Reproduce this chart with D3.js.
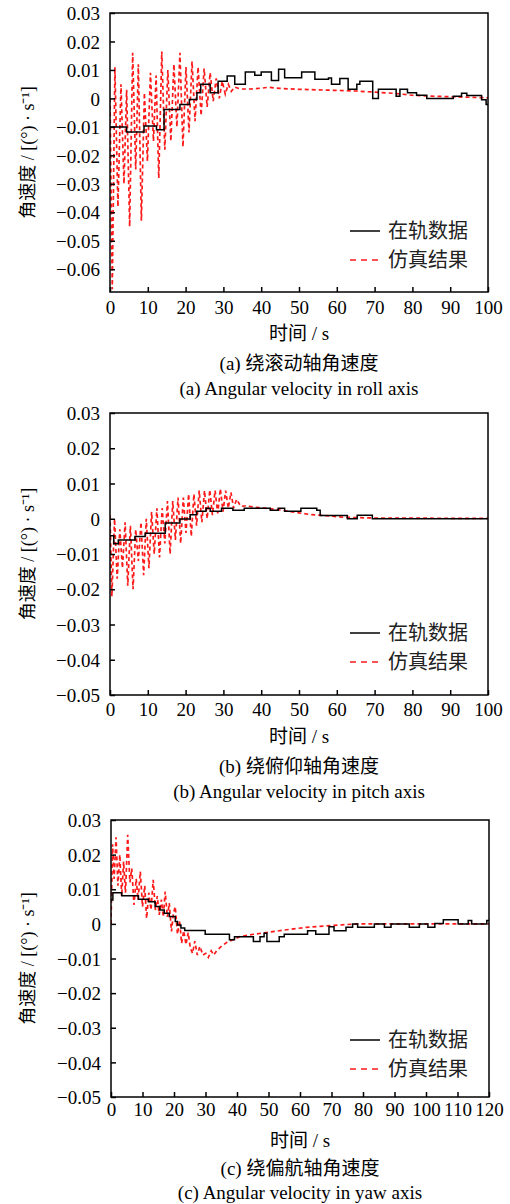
<!DOCTYPE html>
<html><head><meta charset="utf-8">
<script src="https://cdn.jsdelivr.net/npm/d3@7"></script>
<style>body{margin:0;background:#fff}svg{display:block}</style>
</head><body>
<script>
// ---- Data ----
const legendNames = ["在轨数据", "仿真结果"];
const xTitle = "时间 / s";
const yTitle = "角速度 / [(°) · s⁻¹]";
const captionsCN = ["(a) 绕滚动轴角速度", "(b) 绕俯仰轴角速度", "(c) 绕偏航轴角速度"];
const captionsEN = ["(a) Angular velocity in roll axis", "(b) Angular velocity in pitch axis", "(c) Angular velocity in yaw axis"];
const xTicksA = [0,10,20,30,40,50,60,70,80,90,100];
const xTicksC = [0,10,20,30,40,50,60,70,80,90,100,110,120];
const yTicksA = [0.03,0.02,0.01,0,-0.01,-0.02,-0.03,-0.04,-0.05,-0.06];
const yTicksBC = [0.03,0.02,0.01,0,-0.01,-0.02,-0.03,-0.04,-0.05];

// roll: on-orbit (step) and simulation
const rollOrbit = [[0,-0.010],[4.4,-0.0118],[9,-0.0097],[12.3,-0.011],[14.3,-0.0039],[18.5,-0.0021],[21,-0.0004],[23,0.002],[24,0.005],[26.5,0.002],[28.6,0.006],[31,0.0079],[33,0.005],[35.8,0.0093],[38.3,0.0081],[40,0.0093],[42.7,0.0063],[44.6,0.0102],[46.2,0.0073],[50.7,0.0093],[54.2,0.0067],[57.8,0.0072],[58.6,0.005],[60.8,0.007],[63,0.0032],[65.3,0.005],[66.1,0.006],[69.5,0],[71,0.0032],[75.7,0.0008],[76.7,0.0032],[78.7,0.002],[81.1,0.0011],[83.8,0],[90.8,0.0008],[93,0.0018],[94.4,0.001],[98.3,-0.0005],[99.5,-0.0021],[100,-0.0021]];
const rollSim = [[0,0],[0.6,-0.067],[1.3,0.011],[2.1,-0.038],[2.9,0.005],[3.7,-0.03],[4.4,0.003],[5.2,-0.045],[6.0,0.016],[6.8,-0.025],[7.5,0.012],[8.3,-0.043],[9.1,0.002],[9.9,-0.022],[10.7,0.009],[11.5,-0.015],[12.2,0.008],[12.9,-0.028],[13.7,0.0165],[14.5,-0.018],[15.3,0.01],[16.1,-0.015],[16.9,0.012],[17.7,-0.01],[18.5,0.016],[19.3,-0.017],[20.1,0.011],[20.9,-0.012],[21.7,0.013],[22.5,-0.008],[23.3,0.011],[24.1,-0.006],[24.9,0.0105],[25.7,-0.003],[26.5,0.009],[27.3,-0.001],[28.1,0.007],[28.9,0],[29.7,0.006],[30.5,0.0015],[31.3,0.005],[32.1,0.0025],[33,0.004],[34.5,0.0033],[37,0.0033],[40,0.0036],[42,0.0039],[45,0.0035],[50,0.0032],[55,0.003],[60,0.0028],[65,0.0026],[70,0.0022],[75,0.0018],[80,0.0011],[85,0.0008],[90,0.0006],[95,0.0004],[100,0.0002]];

// pitch
const pitchOrbit = [[0,-0.0048],[1.0,-0.0071],[2.2,-0.006],[6.6,-0.005],[9.3,-0.0041],[14.6,-0.0012],[18.5,-0.0001],[21.2,0.0011],[22.9,0.0021],[25.4,0.003],[26.5,0.0021],[29.5,0.003],[32.5,0.0024],[35.5,0.003],[42.4,0.0024],[44.5,0.003],[46.2,0.0021],[50.5,0.003],[54.7,0.0024],[55.6,0.0009],[62.8,0],[65.4,0.001],[69.4,0],[100,0]];
const pitchSim = [[0,0.001],[0.5,-0.022],[1.2,0],[1.9,-0.017],[2.6,-0.003],[3.3,-0.014],[4.0,-0.001],[4.7,-0.019],[5.4,-0.002],[6.1,-0.02],[6.8,-0.003],[7.5,-0.012],[8.2,-0.001],[8.9,-0.016],[9.6,0],[10.3,-0.014],[11.0,0.002],[11.7,-0.01],[12.4,0.003],[13.1,-0.011],[13.8,0.003],[14.5,-0.007],[15.2,0.005],[15.9,-0.01],[16.6,0.005],[17.3,-0.006],[18.0,0.006],[18.7,-0.007],[19.4,0.006],[20.1,-0.004],[20.8,0.007],[21.5,-0.005],[22.2,0.007],[22.9,-0.002],[23.6,0.008],[24.3,-0.001],[25.0,0.008],[25.7,0],[26.4,0.0082],[27.1,0.001],[27.8,0.008],[28.5,0.0015],[29.2,0.0085],[29.9,0.002],[30.6,0.008],[31.3,0.003],[32.0,0.0075],[32.7,0.003],[33.5,0.0055],[34.6,0.0035],[36,0.0037],[38,0.0033],[41,0.003],[45,0.0025],[49,0.0018],[53,0.0012],[58,0.0008],[62,0.0004],[70,0.0002],[100,0.0001]];

// yaw
const yawOrbit = [[0,0.0069],[0.6,0.009],[3.4,0.0081],[8.7,0.0071],[11.9,0.0064],[14.0,0.005],[15.5,0.004],[16.9,0.0031],[18.5,0.0021],[20.4,0.0007],[21.1,-0.0003],[22.2,-0.0012],[23.4,-0.0019],[29.9,-0.003],[37.6,-0.0046],[39.2,-0.0037],[45.2,-0.0051],[47.3,-0.0037],[48.6,-0.0027],[49.5,-0.0051],[53.4,-0.0037],[55,-0.003],[62.4,-0.002],[65,-0.003],[69.2,-0.0008],[70.8,-0.002],[74.6,-0.001],[76.7,0],[78.3,-0.001],[83.6,0],[86.8,-0.001],[88.9,0],[94.7,-0.001],[97.9,0],[100.6,-0.001],[102.8,0.0001],[105.5,0.0012],[110.2,0],[113.4,0.001],[114.5,0],[119.3,0.001],[120,0.001]];
const yawSim = [[0,0],[0.5,0.023],[1.0,0.013],[1.6,0.025],[2.2,0.011],[2.8,0.02],[3.4,0.008],[4.0,0.018],[4.6,0.009],[5.3,0.0257],[6.0,0.012],[6.6,0.016],[7.3,0.0055],[8.0,0.013],[8.6,0.007],[9.3,0.0151],[10.0,0.005],[10.7,0.011],[11.3,0.0016],[12.0,0.009],[12.7,0.004],[13.4,0.0127],[14.1,0.004],[14.7,0.008],[15.3,0.0026],[16.0,0.007],[16.6,0.002],[17.2,0.0093],[17.9,0.002],[18.5,0.006],[19.2,-0.0022],[19.8,0.003],[20.4,0.005],[21.1,-0.003],[21.8,0.001],[22.4,-0.0056],[23.1,-0.002],[23.8,-0.006],[24.5,-0.0025],[25.2,-0.007],[25.9,-0.0085],[26.6,-0.005],[27.4,-0.009],[28.2,-0.0065],[29.2,-0.009],[30.1,-0.0085],[30.9,-0.0097],[31.8,-0.0078],[32.6,-0.009],[33.5,-0.0078],[35,-0.0065],[36.7,-0.0054],[40.9,-0.0037],[45.2,-0.003],[49.4,-0.0025],[55.7,-0.0017],[62,-0.001],[70,-0.0005],[78,0],[90,0],[100,0],[110,0],[120,0]];

const panels = [
  {orbit: rollOrbit, sim: rollSim, xDom:[0,100], yDom:[-0.068,0.03], xt:xTicksA, yt:yTicksA,
   L:110, R:488, T:13, B:292, legY:231, off:[15,41,71,96]},
  {orbit: pitchOrbit, sim: pitchSim, xDom:[0,100], yDom:[-0.05,0.03], xt:xTicksA, yt:yTicksBC,
   L:110, R:488, T:413, B:695, legY:633, off:[14,41,71,96]},
  {orbit: yawOrbit, sim: yawSim, xDom:[0,120], yDom:[-0.05,0.03], xt:xTicksC, yt:yTicksBC,
   L:111, R:489, T:820, B:1097, legY:1040, off:[12,43,71,95]}
];

const W = 510, H = 1204;
const svg = d3.select("body").append("svg").attr("width", W).attr("height", H);
const serif = "'Liberation Serif','Times New Roman','Noto Sans CJK SC',serif";
const cjk = "'Noto Sans CJK SC','Liberation Serif',sans-serif";
const fmt = v => v === 0 ? "0" : (v < 0 ? "\u2212" : "") + Math.abs(v).toFixed(2);

panels.forEach((p, i) => {
  const x = d3.scaleLinear().domain(p.xDom).range([p.L, p.R]);
  const y = d3.scaleLinear().domain(p.yDom).range([p.B, p.T]);
  const g = svg.append("g");

  const cid = "clip" + i;
  svg.append("clipPath").attr("id", cid).append("rect")
    .attr("x", p.L).attr("y", p.T).attr("width", p.R - p.L).attr("height", p.B - p.T);

  const lineStep = d3.line().x(d => x(d[0])).y(d => y(d[1])).curve(d3.curveStepAfter);
  const lineSim = d3.line().x(d => x(d[0])).y(d => y(d[1]));
  g.append("path").datum(p.sim).attr("clip-path", `url(#${cid})`)
    .attr("d", lineSim).attr("fill", "none").attr("stroke", "#ff1a1a")
    .attr("stroke-width", 1.7).attr("stroke-dasharray", "4,3");
  g.append("path").datum(p.orbit).attr("clip-path", `url(#${cid})`)
    .attr("d", lineStep).attr("fill", "none").attr("stroke", "#000")
    .attr("stroke-width", 1.5);

  const xAxis = d3.axisBottom(x).tickValues(p.xt).tickSize(-5).tickFormat(d3.format("d"));
  const gx = g.append("g").attr("transform", `translate(0,${p.B})`).call(xAxis);
  gx.select(".domain").remove();
  gx.selectAll(".tick line").attr("stroke", "#000").attr("stroke-width", 1.5);
  gx.selectAll(".tick text").attr("font-family", serif).attr("font-size", 19).attr("fill", "#000")
    .attr("y", p.off[0]).attr("dy", "0.35em");

  const yAxis = d3.axisLeft(y).tickValues(p.yt).tickSize(-5).tickFormat(fmt);
  const gy = g.append("g").attr("transform", `translate(${p.L},0)`).call(yAxis);
  gy.select(".domain").remove();
  gy.selectAll(".tick line").attr("stroke", "#000").attr("stroke-width", 1.5);
  gy.selectAll(".tick text").attr("font-family", serif).attr("font-size", 19).attr("fill", "#000")
    .attr("x", -10).attr("dy", "0.35em");

  g.append("rect").attr("x", p.L).attr("y", p.T).attr("width", p.R - p.L).attr("height", p.B - p.T)
    .attr("fill", "none").attr("stroke", "#000").attr("stroke-width", 1.5);

  const lx = 350;
  g.append("line").attr("x1", lx).attr("x2", lx + 30).attr("y1", p.legY).attr("y2", p.legY)
    .attr("stroke", "#000").attr("stroke-width", 1.5);
  g.append("line").attr("x1", lx).attr("x2", lx + 30).attr("y1", p.legY + 29).attr("y2", p.legY + 29)
    .attr("stroke", "#ff1a1a").attr("stroke-width", 1.6).attr("stroke-dasharray", "6,5");
  g.append("text").attr("x", 388).attr("y", p.legY).attr("dy", "0.35em")
    .attr("font-family", cjk).attr("font-size", 20).attr("fill", "#222").text(legendNames[0]);
  g.append("text").attr("x", 388).attr("y", p.legY + 29).attr("dy", "0.35em")
    .attr("font-family", cjk).attr("font-size", 20).attr("fill", "#222").text(legendNames[1]);

  const cx = (p.L + p.R) / 2;
  g.append("text").attr("x", cx).attr("y", p.B + p.off[1]).attr("dy", "0.35em").attr("text-anchor", "middle")
    .attr("font-family", serif).attr("font-size", 19).attr("fill", "#000").text(xTitle);
  g.append("text").attr("x", cx).attr("y", p.B + p.off[2]).attr("dy", "0.35em").attr("text-anchor", "middle")
    .attr("font-family", serif).attr("font-size", 19).attr("fill", "#000").text(captionsCN[i]);
  g.append("text").attr("x", cx).attr("y", p.B + p.off[3]).attr("dy", "0.35em").attr("text-anchor", "middle")
    .attr("font-family", serif).attr("font-size", 19).attr("fill", "#000").text(captionsEN[i]);
  g.append("text").attr("transform", `translate(28,${(p.T + p.B) / 2}) rotate(-90)`)
    .attr("dy", "0.35em").attr("text-anchor", "middle")
    .attr("font-family", serif).attr("font-size", 18).attr("fill", "#000").text(yTitle);
});
</script>
</body></html>
